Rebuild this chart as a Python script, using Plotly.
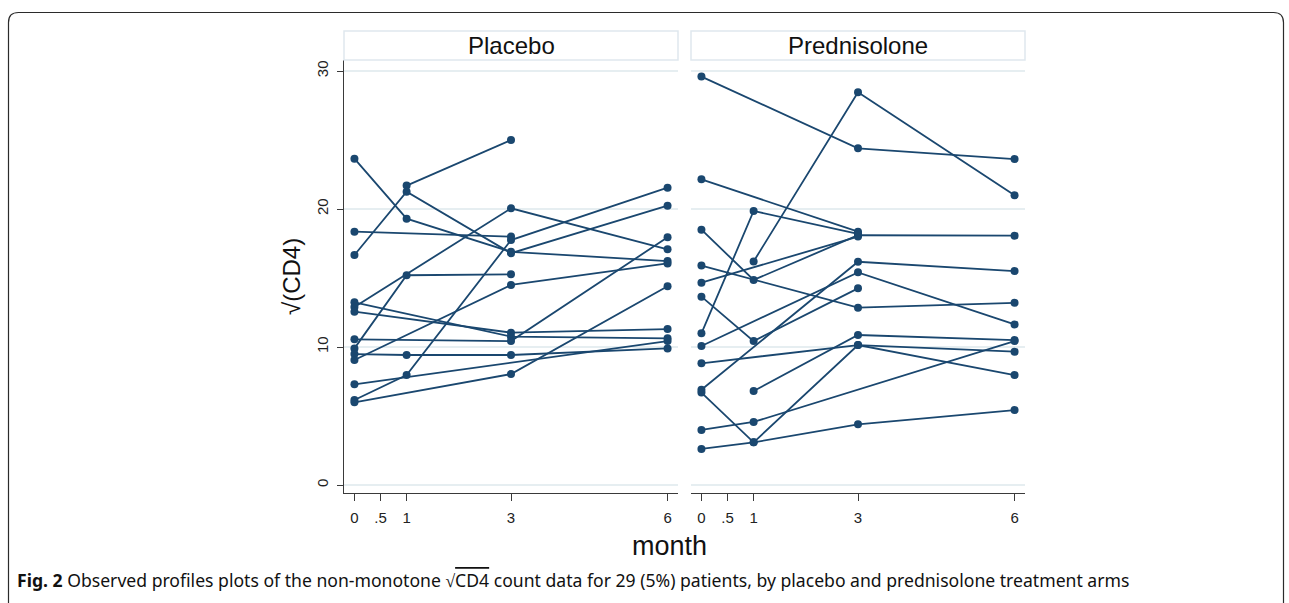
import plotly.graph_objects as go

W, H = 1289, 603

# Visit months
months = [0, 1, 3, 6]

# sqrt(CD4) per patient at months 0, 1, 3, 6 (None = not observed)
placebo = [
    [None, 21.7, 25.0, None],
    [16.67, 21.26, 16.8, 20.24],
    [23.65, 19.3, 16.9, 16.23],
    [18.36, None, 18.0, None],
    [6.16, 7.97, 17.75, 21.55],
    [12.9, None, 20.05, 17.08],
    [9.9, 15.2, 15.27, None],
    [12.56, None, 11.04, 11.3],
    [13.24, None, 10.75, 10.63],
    [10.56, None, 10.43, 17.95],
    [5.99, None, 8.04, 14.4],
    [9.49, 9.42, 9.42, 9.9],
    [9.06, None, 14.5, 16.06],
    [7.3, None, None, 10.43],
]

prednisolone = [
    [29.6, None, 24.4, 23.62],
    [None, 16.2, 28.46, 21.0],
    [22.15, None, 18.36, None],
    [18.5, 14.86, 18.1, 18.07],
    [15.9, None, 12.85, 13.2],
    [14.66, None, 18.0, None],
    [10.99, 19.86, 18.2, None],
    [13.65, 10.43, 14.25, None],
    [10.07, None, 15.41, 11.64],
    [6.9, None, 16.18, 15.5],
    [6.7, 3.09, 10.14, 7.97],
    [8.82, None, 10.14, 9.66],
    [None, 6.81, 10.87, 10.5],
    [3.99, 4.57, None, 10.43],
    [2.61, 3.09, 4.4, 5.43],
]

panel_titles = ["Placebo", "Prednisolone"]
x_tickvals = [0, 0.5, 1, 3, 6]
x_ticktext = ["0", ".5", "1", "3", "6"]
y_tickvals = [0, 10, 20, 30]

NAVY = "#1a476f"
AXIS = "#3a3a3a"
GRID = "#e6eef1"
FONT = "Liberation Sans"


def px(x):
    return x / W


def py(y):
    return 1 - y / H


fig = go.Figure()

for arm, (axis_x, axis_y) in zip([placebo, prednisolone], [("x", "y"), ("x2", "y2")]):
    for subj in arm:
        xs = [m for m, v in zip(months, subj) if v is not None]
        ys = [v for v in subj if v is not None]
        fig.add_trace(go.Scatter(
            x=xs, y=ys, xaxis=axis_x, yaxis=axis_y,
            mode="lines+markers",
            line=dict(color=NAVY, width=1.8),
            marker=dict(color=NAVY, size=8),
            showlegend=False, hoverinfo="skip",
        ))

left_dom = [px(344), px(678)]
right_dom = [px(691), px(1025)]
y_dom = [py(493), py(60)]
x_range = [-0.2, 6.2]
y_range = [-0.58, 30.8]

xaxis_common = dict(
    range=x_range, tickvals=x_tickvals, ticktext=x_ticktext,
    showgrid=False, zeroline=False, showline=True, linecolor=AXIS, linewidth=1,
    ticks="outside", ticklen=7, tickcolor=AXIS, ticklabelstandoff=4,
    tickfont=dict(family=FONT, size=15, color="#222"),
)

fig.update_layout(
    width=W, height=H, autosize=False,
    margin=dict(l=0, r=0, t=0, b=0),
    paper_bgcolor="white", plot_bgcolor="white",
    xaxis=dict(domain=left_dom, anchor="y", **xaxis_common),
    xaxis2=dict(domain=right_dom, anchor="y2", **xaxis_common),
    yaxis=dict(
        domain=y_dom, range=y_range, tickvals=y_tickvals, anchor="x",
        showgrid=True, gridcolor=GRID, gridwidth=2, zeroline=False,
        showline=True, linecolor=AXIS, linewidth=1,
        ticks="outside", ticklen=6, tickcolor=AXIS, tickangle=-90,
        ticklabelstandoff=3,
        tickfont=dict(family=FONT, size=15, color="#222"),
    ),
    yaxis2=dict(
        domain=y_dom, range=y_range, tickvals=y_tickvals, anchor="x2",
        showgrid=True, gridcolor=GRID, gridwidth=2, zeroline=False,
        showline=False, showticklabels=False, ticks="",
    ),
)

# Panel header strips
shapes = []
annotations = []
for dom, title in zip([left_dom, right_dom], panel_titles):
    shapes.append(dict(
        type="rect", xref="paper", yref="paper",
        x0=dom[0], x1=dom[1], y0=py(60), y1=py(31),
        line=dict(color="#dfe8ee", width=1.5), fillcolor="white",
    ))
    annotations.append(dict(
        x=(dom[0] + dom[1]) / 2, y=py(45.5), xref="paper", yref="paper",
        text=title, showarrow=False, xanchor="center", yanchor="middle",
        font=dict(family=FONT, size=24, color="#111"),
    ))

# Outer rounded frame of the figure
x0, y0, x1, y1, r = px(8.5), py(12.5), px(1283.5), py(610), 10
shapes.append(dict(
    type="path", xref="paper", yref="paper",
    path=(f"M {x0},{y1} L {x0},{py(12.5 + r)} "
          f"Q {x0},{y0} {px(8.5 + r)},{y0} "
          f"L {px(1283.5 - r)},{y0} Q {x1},{y0} {x1},{py(12.5 + r)} "
          f"L {x1},{y1}"),
    line=dict(color="#2b2b2b", width=1.2),
))

# Axis titles
annotations.append(dict(
    x=px(291), y=py(277), xref="paper", yref="paper",
    text="√(CD4)", textangle=-90, showarrow=False,
    xanchor="center", yanchor="middle",
    font=dict(family=FONT, size=24, color="#111"),
))
annotations.append(dict(
    x=px(669), y=py(546), xref="paper", yref="paper",
    text="month", showarrow=False, xanchor="center", yanchor="middle",
    font=dict(family=FONT, size=27, color="#111"),
))

# Caption
annotations.append(dict(
    x=px(15), y=py(580), xref="paper", yref="paper",
    text=("<b>Fig. 2</b> Observed profiles plots of the non-monotone √"
          "<span style=\"text-decoration:overline\">CD4</span> count data "
          "for 29 (5%) patients, by placebo and prednisolone treatment arms"),
    showarrow=False, xanchor="left", yanchor="middle",
    font=dict(family="Noto Sans", size=17.6, color="#111"),
))

fig.update_layout(shapes=shapes, annotations=annotations)

fig.write_html("out.html")
